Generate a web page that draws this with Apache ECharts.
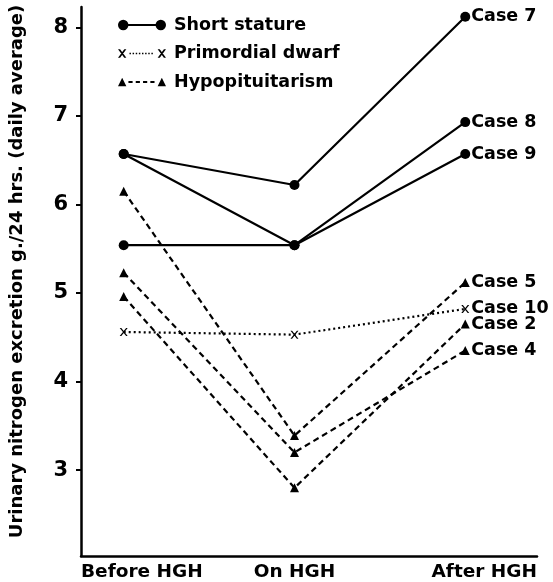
<!DOCTYPE html>
<html><head><meta charset="utf-8">
<script src="https://cdn.jsdelivr.net/npm/echarts@6/dist/echarts.min.js"></script>
<style>html,body{margin:0;padding:0;background:#fff}#c{width:553px;height:582px}</style>
</head><body><div id="c"></div>
<script>
// ---- data ----
const stages = ['Before HGH', 'On HGH', 'After HGH'];
const yTickValues = [3, 4, 5, 6, 7, 8];
const groupNames = ['Short stature', 'Primordial dwarf', 'Hypopituitarism'];
const case7 = [6.57, 6.22, 8.12];
const case8 = [6.57, 5.54, 6.93];
const case9 = [5.54, 5.54, 6.57];
const case10 = [4.56, 4.53, 4.82];
const case5 = [6.15, 3.39, 5.12];
const case4 = [5.23, 3.20, 4.35];
const case2 = [4.96, 2.80, 4.65];
const cases = [
  {label: 'Case 7', group: 0, values: case7},
  {label: 'Case 8', group: 0, values: case8},
  {label: 'Case 9', group: 0, values: case9},
  {label: 'Case 10', group: 1, values: case10},
  {label: 'Case 5', group: 2, values: case5},
  {label: 'Case 4', group: 2, values: case4},
  {label: 'Case 2', group: 2, values: case2}
];
// ---- styling ----
const FONT = 'DejaVu Sans';
const xMin = -0.25, xMax = 2.42;
const yMin = 2.03, yMax = 8.23;
const crossPath = 'path://M0,0L2,0L10,10L8,10ZM8,0L10,0L2,10L0,10Z';
function rect(x, y, w, h) { return `M${x},${y}L${x + w},${y}L${x + w},${y + h}L${x},${y + h}Z`; }
let iconSS = 'path://M1,6A5,5 0 1,1 11,6A5,5 0 1,1 1,6ZM37,6A5,5 0 1,1 47,6A5,5 0 1,1 37,6Z' + rect(6, 5, 36, 2);
let iconPD = 'path://M1,2L3,2L9,10L7,10ZM7,2L9,2L3,10L1,10ZM39,2L41,2L47,10L45,10ZM45,2L47,2L41,10L39,10Z';
for (let x = 12; x <= 35; x += 3) iconPD += rect(x, 5.3, 1.4, 1.4);
let iconHY = 'path://M1,10L5,2L9,10ZM39,10L43,2L47,10Z';
for (let x = 11; x <= 33; x += 7) iconHY += rect(x, 5, 4, 2);
const groupStyle = [
  {symbol: 'circle', size: 10, line: 'solid', icon: iconSS},
  {symbol: crossPath, size: 8, line: [2, 3], icon: iconPD},
  {symbol: 'triangle', size: 9, line: [6, 4], icon: iconHY}
];

const series = cases.map(c => {
  const g = groupStyle[c.group];
  return {
    type: 'line',
    name: groupNames[c.group],
    data: c.values.map((v, i) => [i, v]),
    symbol: g.symbol,
    symbolSize: g.size,
    showAllSymbol: true,
    color: '#000',
    itemStyle: {color: '#000'},
    lineStyle: {color: '#000', width: 2.2, type: g.line},
    emphasis: {disabled: true},
    animation: false,
    endLabel: {
      show: true,
      formatter: () => c.label,
      color: '#000',
      fontFamily: FONT,
      fontWeight: 'bold',
      fontSize: 17.5,
      distance: 6
    }
  };
});

const chart = echarts.init(document.getElementById('c'), null, {renderer: 'canvas'});
chart.setOption({
  backgroundColor: '#fff',
  animation: false,
  grid: {left: 77, right: 16, top: 7, bottom: 25, containLabel: false},
  legend: {
    orient: 'vertical',
    left: 113, top: 11,
    itemWidth: 48, itemHeight: 12, itemGap: 10.5,
    textStyle: {color: '#000', fontFamily: FONT, fontWeight: 'bold', fontSize: 17.5, padding: [0, 0, 0, 3]},
    itemStyle: {color: '#000'},
    data: groupNames.map((n, i) => ({name: n, icon: groupStyle[i].icon})),
    selectedMode: false
  },
  xAxis: {
    type: 'value', min: xMin, max: xMax,
    axisLine: {show: true, onZero: false, lineStyle: {color: '#000', width: 2.5}},
    axisTick: {show: false},
    splitLine: {show: false},
    axisLabel: {
      customValues: [xMin, 1, xMax],
      showMinLabel: true, showMaxLabel: true,
      alignMinLabel: 'left', alignMaxLabel: 'right',
      formatter: v => v === xMin ? stages[0] : (v === xMax ? stages[2] : stages[1]),
      color: '#000', fontFamily: FONT, fontWeight: 'bold', fontSize: 18.5, margin: 7
    }
  },
  yAxis: {
    type: 'value', min: yMin, max: yMax,
    name: 'Urinary nitrogen excretion g./24 hrs. (daily average)',
    nameLocation: 'middle', nameRotate: 90, nameGap: 55,
    nameTextStyle: {color: '#000', fontFamily: FONT, fontWeight: 'bold', fontSize: 18, padding: [0, 0, 0, 20]},
    axisLine: {show: true, onZero: false, lineStyle: {color: '#000', width: 2.5}},
    axisTick: {show: true, customValues: yTickValues, length: 5, lineStyle: {color: '#000', width: 2}},
    splitLine: {show: false},
    axisLabel: {
      customValues: yTickValues,
      color: '#000', fontFamily: FONT, fontWeight: 'bold', fontSize: 21, margin: 13
    }
  },
  series: series
});
</script></body></html>
